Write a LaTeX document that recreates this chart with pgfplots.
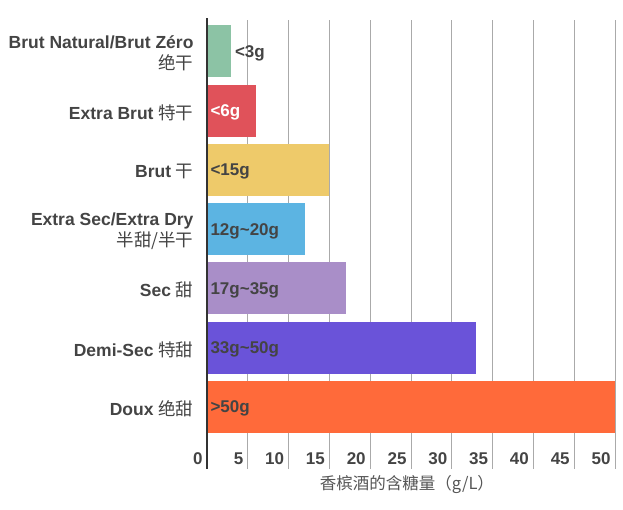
\documentclass[border=0pt]{standalone}
\usepackage{pgfplots}
\pgfplotsset{compat=1.18}
\usepackage{fontspec}
\setmainfont{Liberation Sans}
\newfontfamily\cjk{Noto Sans CJK SC}
\newcommand{\zh}[1]{{\cjk\mdseries\fontsize{17.5}{21}\selectfont #1}}
\definecolor{txt}{HTML}{444444}
\definecolor{txtb}{HTML}{555555}
\definecolor{gridc}{HTML}{AAAAAA}
\definecolor{axc}{HTML}{333333}
\definecolor{cA}{HTML}{8CC3A5}
\definecolor{cB}{HTML}{E0525A}
\definecolor{cC}{HTML}{EECA6A}
\definecolor{cD}{HTML}{5CB4E2}
\definecolor{cE}{HTML}{A98EC8}
\definecolor{cF}{HTML}{6A53D9}
\definecolor{cG}{HTML}{FF6A3A}
\begin{document}
\begin{tikzpicture}
\useasboundingbox (-207pt,-41pt) rectangle (416pt,469pt);
\begin{axis}[
  at={(0pt,0pt)}, anchor=south west,
  scale only axis, width=408pt, height=449pt,
  xmin=0, xmax=50, ymin=-1.05, ymax=6.53,
  xtick={0,5,...,50}, ytick={0,...,6},
  /pgf/number format/assume math mode=true,
  yticklabels={
    {Doux \zh{绝甜}},
    {Demi-Sec \zh{特甜}},
    {Sec \zh{甜}},
    {Extra Sec/Extra Dry\\\zh{半甜/半干}},
    {Brut \zh{干}},
    {Extra Brut \zh{特干}},
    {Brut Natural/Brut Zéro\\\zh{绝干}}},
  major tick length=0pt,
  xmajorgrids, grid style={line width=1pt, color=gridc},
  axis line style={draw=none},
  tick label style={font=\fontsize{17}{21}\selectfont\bfseries, text=txt},
  xticklabel style={anchor=east, xshift=-1pt, yshift=10pt},
  yticklabel style={align=right, xshift=-10pt, yshift=-2pt, font=\fontsize{17.5}{21}\selectfont\bfseries},
  xlabel={\cjk 香槟酒的含糖量（g/L）},
  xlabel style={at={(axis description cs:0.49,0)}, anchor=center, yshift=-16pt, font=\fontsize{16.5}{18}\selectfont, text=txtb},
  clip=false,
]
\addplot[xbar, bar width=52pt, bar shift=0pt, fill=cA, draw=none] coordinates {(3,6)};
\addplot[xbar, bar width=52pt, bar shift=0pt, fill=cB, draw=none] coordinates {(6,5)};
\addplot[xbar, bar width=52pt, bar shift=0pt, fill=cC, draw=none] coordinates {(15,4)};
\addplot[xbar, bar width=52pt, bar shift=0pt, fill=cD, draw=none] coordinates {(12,3)};
\addplot[xbar, bar width=52pt, bar shift=0pt, fill=cE, draw=none] coordinates {(17,2)};
\addplot[xbar, bar width=52pt, bar shift=0pt, fill=cF, draw=none] coordinates {(33,1)};
\addplot[xbar, bar width=52pt, bar shift=0pt, fill=cG, draw=none] coordinates {(50,0)};
\addplot[draw=none, mark=none, nodes near coords, point meta=explicit symbolic,
  nodes near coords style={anchor=west, yshift=-2pt, font=\fontsize{17}{20}\selectfont\bfseries, text=txt}]
  coordinates {(3,6) [<3g] (0,5) [\textcolor{white}{<6g}] (0,4) [<15g]
    (0,3) [12g\textasciitilde20g] (0,2) [17g\textasciitilde35g]
    (0,1) [33g\textasciitilde50g] (0,0) [>50g]};
\draw[line width=2pt, color=axc] (rel axis cs:0,0) -- (rel axis cs:0,1.005);
\end{axis}
\end{tikzpicture}
\end{document}
